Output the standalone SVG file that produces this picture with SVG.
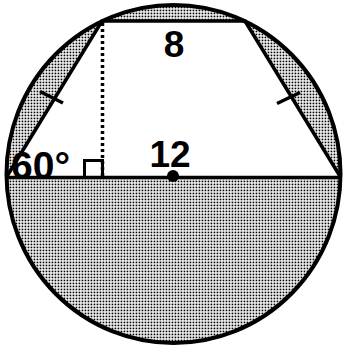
<svg xmlns="http://www.w3.org/2000/svg" width="343" height="346" viewBox="0 0 343 346">
  <defs>
    <pattern id="dots" patternUnits="userSpaceOnUse" x="0" y="0" width="3" height="3">
      <rect x="0.6" y="0.6" width="1.7" height="1.7" fill="#000"/>
    </pattern>
  </defs>
  <style>
    .ln { stroke: #000; stroke-width: 3.5; fill: none; stroke-linecap: butt; }
    .lbl { font-family: "Liberation Sans", Arial, sans-serif; font-weight: bold; font-size: 37px; fill: #000; }
  </style>
  <rect width="343" height="346" fill="#fff"/>
  <g id="shading">
    <path d="M6.5,174 A167,169 0 1 1 340.5,174 A167,169 0 1 1 6.5,174 Z M6.5,177 L102,21 L245,21 L340.5,177 Z" fill="url(#dots)" fill-rule="evenodd"/>
  </g>
  <g id="circle">
    <ellipse cx="173.5" cy="174" rx="167" ry="169" fill="none" stroke="#000" stroke-width="4"/>
  </g>
  <g id="trapezoid">
    <polyline class="ln" points="6.5,177 102,21 245,21 340.5,177"/>
  </g>
  <g id="diameter">
    <line class="ln" x1="5" y1="177.5" x2="342" y2="177.5"/>
  </g>
  <g id="connectors">
    <line class="ln" x1="102.5" y1="23" x2="102.5" y2="176" stroke-dasharray="3,3" stroke-width="3"/>
    <line class="ln" x1="40" y1="91.5" x2="63" y2="103"/>
    <line class="ln" x1="277" y1="103.5" x2="300" y2="92.5"/>
    <rect x="84.5" y="160.5" width="18" height="17" fill="none" stroke="#000" stroke-width="3"/>
  </g>
  <g id="center">
    <circle cx="173" cy="176" r="6" fill="#000"/>
  </g>
  <g id="labels">
    <text class="lbl" x="174" y="57" text-anchor="middle">8</text>
    <text class="lbl" x="170" y="167" text-anchor="middle">12</text>
    <text class="lbl" x="11" y="179" style="font-size:39px">60°</text>
  </g>
</svg>
